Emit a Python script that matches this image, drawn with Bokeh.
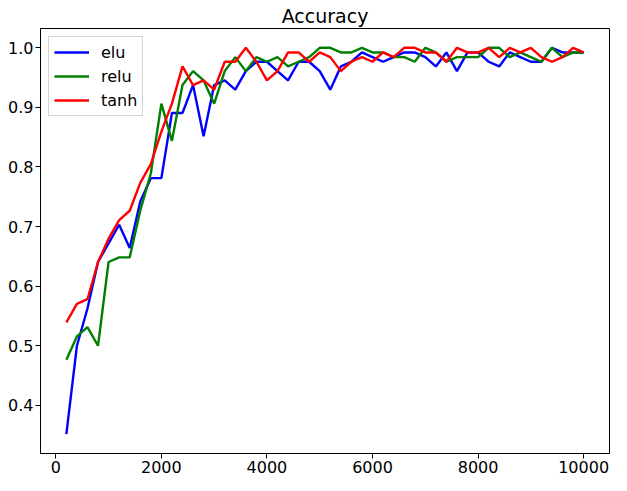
from bokeh.plotting import figure
from bokeh.models import Range1d, FixedTicker
from bokeh.embed import file_html
from bokeh.resources import INLINE

steps = list(range(200, 10001, 200))

elu = [0.3516, 0.5000, 0.5625, 0.6406, 0.6719, 0.7031, 0.6641, 0.7422, 0.7813, 0.7813,
       0.8906, 0.8906, 0.9375, 0.8516, 0.9375, 0.9453, 0.9297, 0.9609, 0.9766, 0.9766,
       0.9609, 0.9453, 0.9766, 0.9766, 0.9609, 0.9297, 0.9688, 0.9766, 0.9922, 0.9844,
       0.9766, 0.9844, 0.9922, 0.9922, 0.9844, 0.9688, 0.9922, 0.9609, 0.9922, 0.9922,
       0.9766, 0.9688, 0.9922, 0.9844, 0.9766, 0.9766, 1.0000, 0.9922, 0.9922, 0.9922]

relu = [0.4766, 0.5156, 0.5313, 0.5000, 0.6406, 0.6484, 0.6484, 0.7266, 0.7891, 0.9063,
        0.8438, 0.9375, 0.9609, 0.9453, 0.9063, 0.9609, 0.9844, 0.9609, 0.9844, 0.9766,
        0.9844, 0.9688, 0.9766, 0.9844, 1.0000, 1.0000, 0.9922, 0.9922, 1.0000, 0.9922,
        0.9922, 0.9844, 0.9844, 0.9766, 1.0000, 0.9922, 0.9766, 0.9844, 0.9844, 0.9844,
        1.0000, 1.0000, 0.9844, 0.9922, 0.9844, 0.9766, 1.0000, 0.9844, 0.9922, 0.9922]

tanh = [0.5391, 0.5703, 0.5781, 0.6406, 0.6797, 0.7109, 0.7266, 0.7734, 0.8047, 0.8594,
        0.9063, 0.9688, 0.9375, 0.9453, 0.9297, 0.9766, 0.9766, 1.0000, 0.9766, 0.9453,
        0.9609, 0.9922, 0.9922, 0.9766, 0.9922, 0.9844, 0.9609, 0.9766, 0.9844, 0.9766,
        0.9922, 0.9844, 1.0000, 1.0000, 0.9922, 0.9922, 0.9766, 1.0000, 0.9922, 0.9922,
        1.0000, 0.9844, 1.0000, 0.9922, 1.0000, 0.9844, 0.9766, 0.9844, 1.0000, 0.9922]

x_ticks = [0, 2000, 4000, 6000, 8000, 10000]
y_ticks = [0.4, 0.5, 0.6, 0.7, 0.8, 0.9, 1.0]

series = [("elu", elu, "#0000ff"), ("relu", relu, "#008000"), ("tanh", tanh, "#ff0000")]

FONT = "DejaVu Sans"

xmin, xmax = min(steps), max(steps)
xm = (xmax - xmin) * 0.05
allv = elu + relu + tanh
ymin, ymax = min(allv), max(allv)
ym = (ymax - ymin) * 0.05

p = figure(width=611, height=475, output_backend="svg", toolbar_location=None,
           x_range=Range1d(xmin - xm, xmax + xm), y_range=Range1d(ymin - ym, ymax + ym),
           min_border_left=40, min_border_right=2, min_border_top=28, min_border_bottom=18,
           title="Accuracy")

p.title.align = "center"
p.title.text_font = FONT
p.title.text_font_size = "19px"
p.title.text_font_style = "normal"
p.title.text_color = "#000000"
p.title.standoff = 3

for name, vals, col in series:
    p.line(steps, vals, line_color=col, line_width=2.4, legend_label=name)

p.xgrid.visible = False
p.ygrid.visible = False
p.outline_line_color = "#000000"
p.outline_line_width = 1
p.outline_line_alpha = 1

for ax in (p.xaxis, p.yaxis):
    ax.axis_line_color = "#000000"
    ax.major_tick_line_color = "#000000"
    ax.major_tick_out = 5
    ax.major_tick_in = 0
    ax.minor_tick_out = 0
    ax.minor_tick_in = 0
    ax.major_label_text_font = FONT
    ax.major_label_text_font_size = "16px"
    ax.major_label_text_color = "#000000"
    ax.major_label_standoff = 2

p.xaxis.ticker = FixedTicker(ticks=x_ticks)
p.yaxis.ticker = FixedTicker(ticks=y_ticks)
p.yaxis.major_label_overrides = {t: f"{t:.1f}" for t in y_ticks}
p.xaxis.major_label_overrides = {t: str(t) for t in x_ticks}

lg = p.legend[0]
lg.location = "top_left"
lg.margin = 8
lg.padding = 5
lg.spacing = 4
lg.label_height = 20
lg.glyph_height = 20
lg.glyph_width = 35
lg.label_standoff = 12
lg.label_text_font = FONT
lg.label_text_font_size = "16px"
lg.label_text_color = "#000000"
lg.border_line_color = "#cccccc"
lg.border_line_alpha = 0.8
lg.background_fill_alpha = 0.8

open("out.html", "w").write(file_html(p, INLINE))
